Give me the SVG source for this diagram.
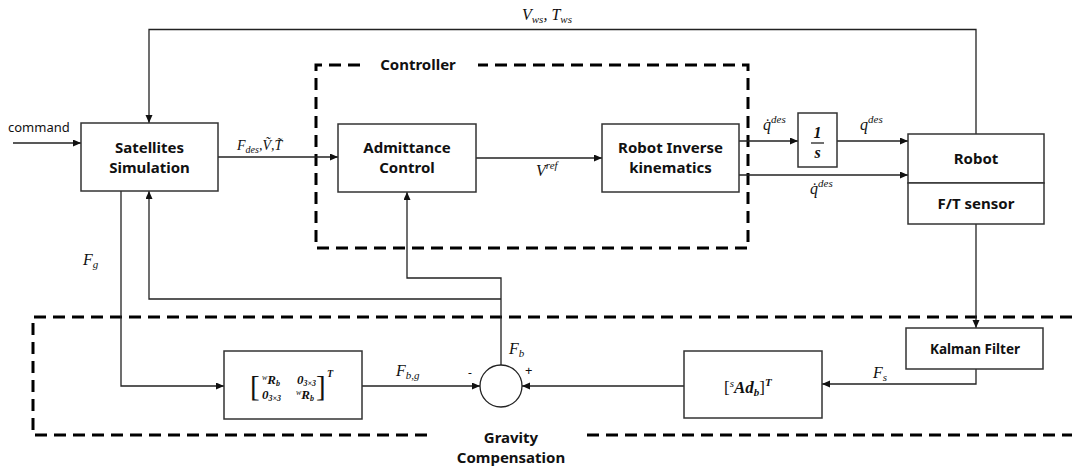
<svg xmlns="http://www.w3.org/2000/svg" width="1072" height="466" viewBox="0 0 1072 466">
  <style>
    .box { fill: #fff; stroke: #333; stroke-width: 1.5; }
    .wire { fill: none; stroke: #222; stroke-width: 1.3; }
    .dash { fill: none; stroke: #000; stroke-width: 3; stroke-dasharray: 12 7; }
    .lbl { font-family: "Noto Sans", "Open Sans", sans-serif; font-weight: bold; font-size: 15px; fill: #111; text-anchor: middle; }
    .plain { font-family: "Noto Sans", "Open Sans", sans-serif; font-size: 13px; fill: #111; }
    .m { font-family: "Liberation Serif", "DejaVu Serif", serif; font-style: italic; font-size: 16px; fill: #111; }
    .mb { font-family: "Liberation Serif", "DejaVu Serif", serif; font-style: italic; font-weight: bold; fill: #111; }
    .sub { font-size: 11px; }
  </style>
  <defs>
    <marker id="arr" markerWidth="9" markerHeight="8" refX="8" refY="3.5" orient="auto" markerUnits="userSpaceOnUse">
      <path d="M0,0 L8,3.5 L0,7 z" fill="#111"/>
    </marker>
  </defs>

  <rect width="1072" height="466" fill="#fff"/>

  <!-- grouping frames -->
  <g id="controller-frame">
    <path class="dash" d="M360 65 H316 V248 H748 V65 H478"/>
    <text class="lbl" x="418" y="70">Controller</text>
  </g>
  <g id="gravity-frame">
    <path class="dash" d="M1072 317 H33 V435 H430"/>
    <path class="dash" d="M587 435 H1072"/>
    <text class="lbl" x="511" y="443">Gravity</text>
    <text class="lbl" x="511" y="463">Compensation</text>
  </g>

  <!-- connectors -->
  <g id="connectors">
    <path class="wire" d="M13 143 H81" marker-end="url(#arr)"/>
    <path class="wire" d="M976 134 V29.5 H149 V123" marker-end="url(#arr)"/>
    <path class="wire" d="M218 157 H338" marker-end="url(#arr)"/>
    <path class="wire" d="M476 158 H602" marker-end="url(#arr)"/>
    <path class="wire" d="M739 141 H798" marker-end="url(#arr)"/>
    <path class="wire" d="M837 141 H908" marker-end="url(#arr)"/>
    <path class="wire" d="M739 175 H908" marker-end="url(#arr)"/>
    <path class="wire" d="M976 224 V328" marker-end="url(#arr)"/>
    <path class="wire" d="M976 369 V384 H822" marker-end="url(#arr)"/>
    <path class="wire" d="M684 386 H522" marker-end="url(#arr)"/>
    <path class="wire" d="M362 386 H480" marker-end="url(#arr)"/>
    <path class="wire" d="M121 191 V386 H224" marker-end="url(#arr)"/>
    <path class="wire" d="M501 365 V278 H407 V192" marker-end="url(#arr)"/>
    <path class="wire" d="M501 299 H149 V191" marker-end="url(#arr)"/>

    <text class="plain" x="8" y="132">command</text>
    <text class="m" x="522" y="20">V<tspan class="sub" dy="3">ws</tspan><tspan dy="-3">, T</tspan><tspan class="sub" dy="3">ws</tspan></text>
    <text class="m" x="237" y="150" style="font-size:14px">F<tspan style="font-size:10px" dy="3">des</tspan><tspan dy="-3">,V&#771;,T&#771;</tspan></text>
    <text class="m" x="536" y="176">V<tspan class="sub" dy="-7">ref</tspan></text>
    <text class="m" x="763" y="130">q&#775;<tspan class="sub" dy="-7">des</tspan></text>
    <text class="m" x="860" y="130">q<tspan class="sub" dy="-7">des</tspan></text>
    <text class="m" x="810" y="194">q&#775;<tspan class="sub" dy="-7">des</tspan></text>
    <text class="m" x="83" y="265">F<tspan class="sub" dy="3">g</tspan></text>
    <text class="m" x="396" y="376">F<tspan class="sub" dy="3">b,g</tspan></text>
    <text class="m" x="509" y="354">F<tspan class="sub" dy="3">b</tspan></text>
    <text class="m" x="873" y="378">F<tspan class="sub" dy="3">s</tspan></text>
    <text class="plain" x="468" y="377" style="font-size:12px">-</text>
    <text class="plain" x="525" y="375" style="font-size:13px">+</text>
  </g>

  <!-- blocks -->
  <g id="satellites">
    <rect class="box" x="81" y="123" width="137" height="68"/>
    <text class="lbl" x="149.5" y="153">Satellites</text>
    <text class="lbl" x="149.5" y="173">Simulation</text>
  </g>
  <g id="admittance">
    <rect class="box" x="338" y="124" width="138" height="68"/>
    <text class="lbl" x="407" y="153">Admittance</text>
    <text class="lbl" x="407" y="173">Control</text>
  </g>
  <g id="inverse-kinematics">
    <rect class="box" x="602" y="124" width="137" height="68"/>
    <text class="lbl" x="670.5" y="153">Robot Inverse</text>
    <text class="lbl" x="670.5" y="173">kinematics</text>
  </g>
  <g id="integrator">
    <rect class="box" x="798" y="113" width="39" height="54"/>
    <text class="mb" x="817.5" y="138" font-size="16" font-style="normal" text-anchor="middle">1</text>
    <line x1="811" y1="143" x2="824" y2="143" stroke="#111" stroke-width="1.2"/>
    <text class="mb" x="817.5" y="158" font-size="16" text-anchor="middle">s</text>
  </g>
  <g id="robot">
    <rect class="box" x="908" y="134" width="136" height="49"/>
    <text class="lbl" x="976" y="164">Robot</text>
  </g>
  <g id="ft-sensor">
    <rect class="box" x="908" y="183" width="136" height="41"/>
    <text class="lbl" x="976" y="209">F/T sensor</text>
  </g>
  <g id="kalman">
    <rect class="box" x="906" y="328" width="137" height="41"/>
    <text class="lbl" x="975" y="354" style="font-size:13.5px">Kalman Filter</text>
  </g>
  <g id="adjoint">
    <rect class="box" x="684" y="351" width="138" height="67"/>
    <text class="mb" x="724" y="393" font-size="17"><tspan font-style="normal" font-weight="normal">[</tspan><tspan font-size="11" dy="-6" font-weight="normal">s</tspan><tspan dy="6">Ad</tspan><tspan font-size="11" dy="3">b</tspan><tspan font-style="normal" font-weight="normal" dy="-3">]</tspan><tspan font-size="11" dy="-7">T</tspan></text>
  </g>
  <g id="rotation">
    <rect class="box" x="224" y="351" width="138" height="68"/>
    <text class="m" x="250" y="396" style="font-size:29px;font-style:normal">[</text>
    <text class="m" x="316" y="396" style="font-size:29px;font-style:normal">]</text>
    <text class="mb" x="327" y="377" font-size="10">T</text>
    <text class="mb" x="262" y="384" font-size="13"><tspan font-size="8" dy="-4" font-weight="normal">w</tspan><tspan dy="4">R</tspan><tspan font-size="8" dy="2">b</tspan></text>
    <text class="mb" x="297" y="384" font-size="13" font-style="normal">0<tspan font-size="8" dy="2">3×3</tspan></text>
    <text class="mb" x="262" y="399" font-size="13" font-style="normal">0<tspan font-size="8" dy="2">3×3</tspan></text>
    <text class="mb" x="296" y="399" font-size="13"><tspan font-size="8" dy="-4" font-weight="normal">w</tspan><tspan dy="4">R</tspan><tspan font-size="8" dy="2">b</tspan></text>
  </g>
  <g id="summing-junction">
    <circle cx="501" cy="386" r="21" fill="#fff" stroke="#222" stroke-width="1.3"/>
  </g>
</svg>
